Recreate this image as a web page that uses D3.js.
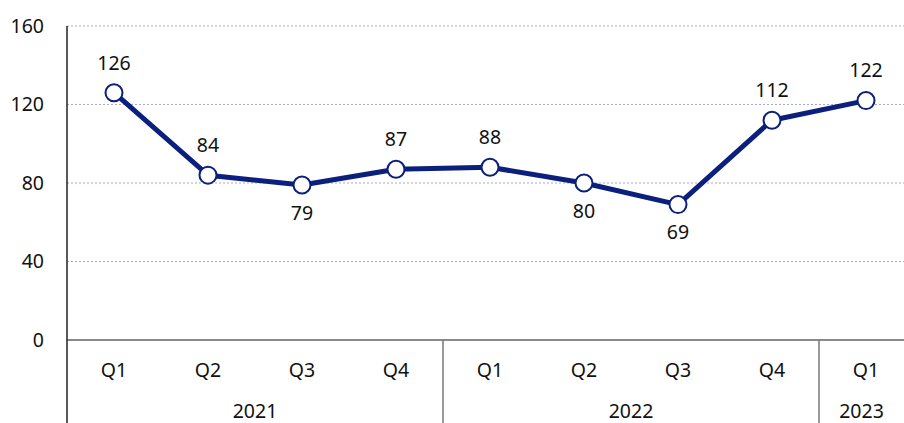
<!DOCTYPE html>
<html>
<head>
<meta charset="utf-8">
<script src="https://cdn.jsdelivr.net/npm/d3@7"></script>
<style>
  body { margin: 0; background: #fff; }
  svg text { font-family: "Noto Sans", sans-serif; fill: #111; }
</style>
</head>
<body>
<svg id="chart"></svg>
<script>
const quarters = ["Q1", "Q2", "Q3", "Q4", "Q1", "Q2", "Q3", "Q4", "Q1"];
const years = ["2021", "2021", "2021", "2021", "2022", "2022", "2022", "2022", "2023"];
const values = [126, 84, 79, 87, 88, 80, 69, 112, 122];
const labelBelow = [false, false, true, false, false, true, true, false, false];
const yTicks = [0, 40, 80, 120, 160];

drawChart();

function drawChart() {
    let width = 904, height = 423;
    let left = 67, top = 26, bottom = 340;
    let svg = d3.select("#chart").attr("width", width).attr("height", height);

    let idx = values.map((d, i) => i);
    let x = d3.scaleBand().domain(idx).range([left, left + 94 * idx.length]);
    let y = d3.scaleLinear().domain([0, 160]).range([bottom, top]);

    // gridlines
    svg.append("g").selectAll("line")
        .data(yTicks.filter(d => d > 0))
        .join("line")
        .attr("x1", left).attr("x2", width)
        .attr("y1", d => y(d)).attr("y2", d => y(d))
        .attr("stroke", "#a9a6cc").attr("stroke-width", 1.2)
        .attr("stroke-dasharray", "2,2");

    // y tick labels
    svg.append("g").selectAll("text")
        .data(yTicks)
        .join("text")
        .attr("x", 44).attr("y", d => y(d))
        .attr("dy", "0.35em")
        .attr("text-anchor", "end")
        .attr("font-size", 19.5)
        .text(d => d);

    // zero line
    svg.append("line")
        .attr("x1", left).attr("x2", width)
        .attr("y1", y(0)).attr("y2", y(0))
        .attr("stroke", "#8a8a8a").attr("stroke-width", 2);

    // y axis line, down through the category rows
    svg.append("line")
        .attr("x1", left).attr("x2", left)
        .attr("y1", top).attr("y2", height)
        .attr("stroke", "#222").attr("stroke-width", 1.5);

    // year separators
    let groups = d3.groups(idx, i => years[i]);
    groups.slice(1).forEach(([yr, ids]) => {
        let sx = x(ids[0]);
        svg.append("line")
            .attr("x1", sx).attr("x2", sx)
            .attr("y1", y(0)).attr("y2", height)
            .attr("stroke", "#777").attr("stroke-width", 1.5);
    });

    // quarter labels
    svg.append("g").selectAll("text")
        .data(idx)
        .join("text")
        .attr("x", i => x(i) + x.bandwidth() / 2)
        .attr("y", 377)
        .attr("text-anchor", "middle")
        .attr("font-size", 19.5)
        .text(i => quarters[i]);

    // year labels
    groups.forEach(([yr, ids]) => {
        let x0 = x(ids[0]), x1 = x(ids[ids.length - 1]) + x.bandwidth();
        x1 = Math.min(x1, width);
        svg.append("text")
            .attr("x", (x0 + x1) / 2)
            .attr("y", 418)
            .attr("text-anchor", "middle")
            .attr("font-size", 19.5)
            .text(yr);
    });

    let cx = i => x(i) + x.bandwidth() / 2;
    let line = d3.line().x((d, i) => cx(i)).y(d => y(d));

    svg.append("path")
        .datum(values)
        .attr("d", line)
        .attr("fill", "none")
        .attr("stroke", "#0b1f7c")
        .attr("stroke-width", 5)
        .attr("stroke-linejoin", "round");

    svg.append("g").selectAll("circle")
        .data(values)
        .join("circle")
        .attr("cx", (d, i) => cx(i))
        .attr("cy", d => y(d))
        .attr("r", 8.5)
        .attr("fill", "#fff")
        .attr("stroke", "#0b1f7c")
        .attr("stroke-width", 2);

    svg.append("g").selectAll("text")
        .data(values)
        .join("text")
        .attr("x", (d, i) => cx(i))
        .attr("y", (d, i) => y(d) + (labelBelow[i] ? 28 : -30))
        .attr("dy", "0.35em")
        .attr("text-anchor", "middle")
        .attr("font-size", 19.5)
        .text(d => d);
}
</script>
</body>
</html>
